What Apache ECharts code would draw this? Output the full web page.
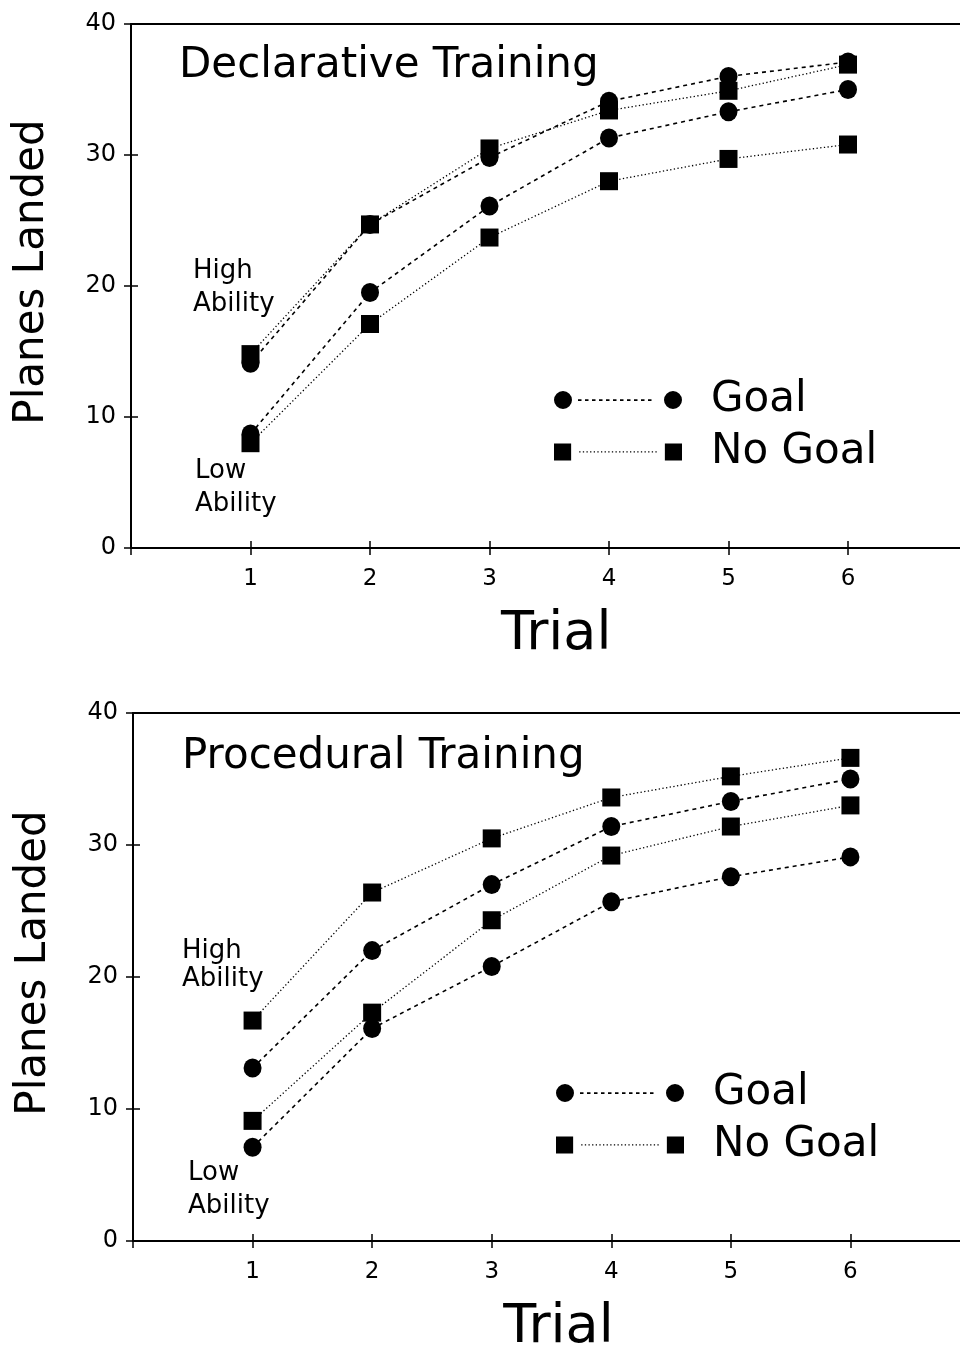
<!DOCTYPE html>
<html>
<head>
<meta charset="utf-8">
<script src="https://cdn.jsdelivr.net/npm/echarts@6/dist/echarts.min.js"></script>
<style>
html,body{margin:0;padding:0;background:#fff;}
#chart{width:960px;height:1349px;}
</style>
</head>
<body>
<div id="chart"></div>
<script>
// ---- data ----
var trials = [1, 2, 3, 4, 5, 6];
var trialLabels = ['1', '2', '3', '4', '5', '6'];
var yTicks = [0, 10, 20, 30, 40];

// Declarative Training
var declHighGoal   = [14.1, 24.7, 29.8, 34.1, 36.0, 37.1];
var declHighNoGoal = [14.8, 24.7, 30.5, 33.4, 34.9, 36.9];
var declLowGoal    = [8.7, 19.5, 26.1, 31.3, 33.3, 35.0];
var declLowNoGoal  = [8.0, 17.1, 23.7, 28.0, 29.7, 30.8];

// Procedural Training
var procHighGoal   = [13.1, 22.0, 27.0, 31.4, 33.3, 35.0];
var procHighNoGoal = [16.7, 26.4, 30.5, 33.6, 35.2, 36.6];
var procLowGoal    = [7.1, 16.1, 20.8, 25.7, 27.6, 29.1];
var procLowNoGoal  = [9.1, 17.3, 24.3, 29.2, 31.4, 33.0];

var panelTitles = ['Declarative Training', 'Procedural Training'];
var legendNames = ['Goal', 'No Goal'];

// ---- helpers ----
var FONT = 'DejaVu Sans';
function pairs(vals) { return vals.map(function (v, i) { return [trials[i], v]; }); }

function goalIcon() {
  var p = 'path://M0 9A9 9 0 1 0 18 9A9 9 0 1 0 0 9Z M110 9A9 9 0 1 0 128 9A9 9 0 1 0 110 9Z';
  for (var x = 24; x <= 100; x += 7) p += ' M' + x + ' 8.2h3.5v1.8h-3.5Z';
  return p;
}
function noGoalIcon() {
  var p = 'path://M1 0.5h17v17h-17Z M111 0.5h17v17h-17Z';
  for (var x = 26; x <= 102; x += 3.6) p += ' M' + x.toFixed(1) + ' 8.3h1.3v1.3h-1.3Z';
  return p;
}

var grids = [
  { left: 131, top: 24, width: 836.5, height: 524, containLabel: false, outerBoundsMode: 'none' },
  { left: 133, top: 713, width: 837, height: 528, containLabel: false, outerBoundsMode: 'none' }
];

var xAxes = [], yAxes = [], series = [];
grids.forEach(function (g, gi) {
  // main x axis
  xAxes.push({
    type: 'value', gridIndex: gi, min: 0, max: 7, interval: 1, position: 'bottom',
    axisLine: { show: true, lineStyle: { color: '#000', width: 2 } },
    axisTick: { show: true, length: 7, lineStyle: { color: '#000', width: 1.5 } },
    axisLabel: {
      color: '#000', fontFamily: FONT, fontSize: 23, margin: 20,
      formatter: function (v) { return trialLabels[trials.indexOf(v)] || ''; }
    },
    splitLine: { show: false },
    name: 'Trial', nameLocation: 'middle', nameGap: 60,
    nameTextStyle: { color: '#000', fontFamily: FONT, fontSize: 54, padding: [0, 0, 0, 14] }
  });
  // inside ticks of x axis
  xAxes.push({
    type: 'value', gridIndex: gi, min: 0, max: 7, interval: 1, position: 'bottom',
    axisLine: { show: false },
    axisTick: { show: true, inside: true, length: 7, lineStyle: { color: '#000', width: 1.5 } },
    axisLabel: { show: false }, splitLine: { show: false }
  });
  // top frame line
  xAxes.push({
    type: 'value', gridIndex: gi, min: 0, max: 7, position: 'top',
    axisLine: { show: true, lineStyle: { color: '#000', width: 2 } },
    axisTick: { show: false }, axisLabel: { show: false }, splitLine: { show: false }
  });
  // main y axis
  yAxes.push({
    type: 'value', gridIndex: gi, min: yTicks[0], max: yTicks[yTicks.length - 1], interval: 10, position: 'left',
    axisLine: { show: true, lineStyle: { color: '#000', width: 2 } },
    axisTick: { show: true, length: 7, lineStyle: { color: '#000', width: 1.5 } },
    axisLabel: { color: '#000', fontFamily: FONT, fontSize: 24, margin: 15 },
    splitLine: { show: false },
    name: 'Planes Landed', nameLocation: 'middle', nameGap: 78,
    nameTextStyle: { color: '#000', fontFamily: FONT, fontSize: 42, padding: [0, 0, 0, 28] }
  });
  // inside ticks of y axis
  yAxes.push({
    type: 'value', gridIndex: gi, min: 0, max: 40, interval: 10, position: 'left',
    axisLine: { show: false },
    axisTick: { show: true, inside: true, length: 7, lineStyle: { color: '#000', width: 1.5 } },
    axisLabel: { show: false }, splitLine: { show: false }
  });
});

function addSeries(gi, name, vals, isGoal) {
  series.push({
    type: 'line', name: name, xAxisIndex: gi * 3, yAxisIndex: gi * 2,
    data: pairs(vals),
    symbol: isGoal ? 'circle' : 'rect',
    symbolSize: isGoal ? [18, 19] : 18,
    itemStyle: { color: '#000' },
    lineStyle: isGoal ? { color: '#000', width: 1.6, type: [4, 4] }
                      : { color: '#000', width: 1.3, type: [1.3, 2.4] },
    animation: false
  });
}
addSeries(0, 'Goal', declHighGoal, true);
addSeries(0, 'No Goal', declHighNoGoal, false);
addSeries(0, 'Goal', declLowGoal, true);
addSeries(0, 'No Goal', declLowNoGoal, false);
addSeries(1, 'Goal', procHighGoal, true);
addSeries(1, 'No Goal', procHighNoGoal, false);
addSeries(1, 'Goal', procLowGoal, true);
addSeries(1, 'No Goal', procLowNoGoal, false);

function makeLegend(left, top) {
  return {
    orient: 'vertical', left: left, top: top, padding: 0,
    itemWidth: 128, itemHeight: 18, itemGap: 10,
    selectedMode: false,
    data: [
      { name: legendNames[0], icon: goalIcon() },
      { name: legendNames[1], icon: noGoalIcon() }
    ],
    textStyle: { color: '#000', fontFamily: FONT, fontSize: 42, padding: [0, 0, 0, 24] }
  };
}

function label(text, x, y, size) {
  return { type: 'text', left: x, top: y, style: { text: text, fill: '#000', font: size + 'px "' + FONT + '"' } };
}

var option = {
  backgroundColor: '#fff',
  animation: false,
  title: [
    { text: panelTitles[0], left: 179, top: 45, padding: 0, textStyle: { color: '#000', fontFamily: FONT, fontSize: 42, fontWeight: 'normal' } },
    { text: panelTitles[1], left: 182, top: 736, padding: 0, textStyle: { color: '#000', fontFamily: FONT, fontSize: 42, fontWeight: 'normal' } }
  ],
  grid: grids,
  xAxis: xAxes,
  yAxis: yAxes,
  legend: [makeLegend(554, 379), makeLegend(556, 1072)],
  graphic: [
    label('High', 193, 258, 26), label('Ability', 193, 291, 26),
    label('Low', 195, 458, 26), label('Ability', 195, 491, 26),
    label('High', 182, 938, 26), label('Ability', 182, 966, 26),
    label('Low', 188, 1160, 26), label('Ability', 188, 1193, 26)
  ],
  series: series
};

var chart = echarts.init(document.getElementById('chart'), null, { renderer: 'canvas' });
chart.setOption(option);
</script>
</body>
</html>
